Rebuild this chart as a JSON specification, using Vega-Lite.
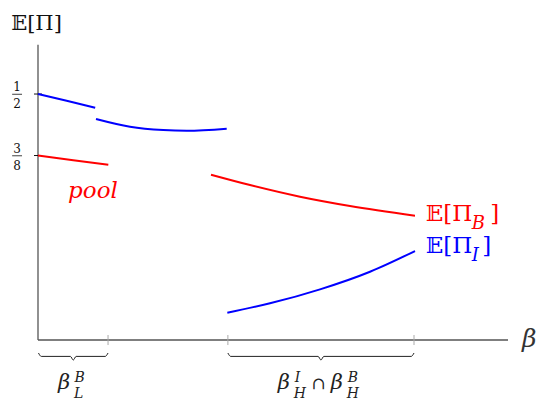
{
  "$schema": "https://vega.github.io/schema/vega-lite/v6.json",
  "width": 538,
  "height": 406,
  "padding": 0,
  "autosize": {"type": "fit", "contains": "padding"},
  "background": "white",
  "config": {"view": {"stroke": null}, "text": {"font": "DejaVu Serif"}},
  "datasets": {
    "axes": [
      {"x": 0, "y": 0, "x2": 10, "y2": 0},
      {"x": 0, "y": 0, "x2": 0, "y2": 0.6}
    ],
    "yticks": [
      {"x": -0.085, "x2": 0.085, "y": 0.5, "y2": 0.5},
      {"x": -0.085, "x2": 0.085, "y": 0.375, "y2": 0.375}
    ],
    "fracbars": [
      {"x": -0.55, "x2": -0.34, "y": 0.4995, "y2": 0.4995},
      {"x": -0.55, "x2": -0.34, "y": 0.3745, "y2": 0.3745}
    ],
    "xticks": [
      {"x": 1.49, "x2": 1.49, "y": -0.0102, "y2": 0.0102},
      {"x": 4.04, "x2": 4.04, "y": -0.0102, "y2": 0.0102},
      {"x": 8.0, "x2": 8.0, "y": -0.0102, "y2": 0.0102}
    ],
    "curves": [
      {"seg": "b1", "s": "I", "x": 0, "y": 0.5},
      {"seg": "b1", "s": "I", "x": 0.61, "y": 0.4864},
      {"seg": "b1", "s": "I", "x": 1.217, "y": 0.4722},
      {"seg": "b2", "s": "I", "x": 1.234, "y": 0.4492},
      {"seg": "b2", "s": "I", "x": 1.957, "y": 0.4335},
      {"seg": "b2", "s": "I", "x": 2.666, "y": 0.4268},
      {"seg": "b2", "s": "I", "x": 3.164, "y": 0.4254},
      {"seg": "b2", "s": "I", "x": 4.015, "y": 0.4295},
      {"seg": "r1", "s": "B", "x": 0, "y": 0.375},
      {"seg": "r1", "s": "B", "x": 0.75, "y": 0.3655},
      {"seg": "r1", "s": "B", "x": 1.496, "y": 0.3563},
      {"seg": "r2", "s": "B", "x": 3.681, "y": 0.336},
      {"seg": "r2", "s": "B", "x": 4.511, "y": 0.315},
      {"seg": "r2", "s": "B", "x": 5.574, "y": 0.2913},
      {"seg": "r2", "s": "B", "x": 6.638, "y": 0.2724},
      {"seg": "r2", "s": "B", "x": 8.021, "y": 0.2526},
      {"seg": "b3", "s": "I", "x": 4.028, "y": 0.0555},
      {"seg": "b3", "s": "I", "x": 4.936, "y": 0.0746},
      {"seg": "b3", "s": "I", "x": 6.0, "y": 0.103},
      {"seg": "b3", "s": "I", "x": 7.064, "y": 0.1388},
      {"seg": "b3", "s": "I", "x": 8.021, "y": 0.1809}
    ],
    "braces": [
      {"b": 1, "x": 0.01, "y": -0.0264},
      {"b": 1, "x": 0.07, "y": -0.0333},
      {"b": 1, "x": 0.69, "y": -0.0333},
      {"b": 1, "x": 0.75, "y": -0.0407},
      {"b": 1, "x": 0.81, "y": -0.0333},
      {"b": 1, "x": 1.43, "y": -0.0333},
      {"b": 1, "x": 1.49, "y": -0.0264},
      {"b": 2, "x": 4.04, "y": -0.0264},
      {"b": 2, "x": 4.1, "y": -0.0333},
      {"b": 2, "x": 5.96, "y": -0.0333},
      {"b": 2, "x": 6.02, "y": -0.0407},
      {"b": 2, "x": 6.08, "y": -0.0333},
      {"b": 2, "x": 7.94, "y": -0.0333},
      {"b": 2, "x": 8.0, "y": -0.0264}
    ],
    "title": [{"t": "𝔼[Π]", "x": -0.032, "y": 0.63}],
    "fracs": [
      {"t": "1", "x": -0.447, "y": 0.5055},
      {"t": "2", "x": -0.447, "y": 0.4715},
      {"t": "3", "x": -0.447, "y": 0.3805},
      {"t": "8", "x": -0.447, "y": 0.3465}
    ],
    "pool": [{"t": "pool", "x": 1.17, "y": 0.2886}],
    "legendMain": [
      {"s": "B", "t": "𝔼[Π", "x": 8.25, "y": 0.2419},
      {"s": "B", "t": "]", "x": 9.62, "y": 0.2419},
      {"s": "I", "t": "𝔼[Π", "x": 8.25, "y": 0.176},
      {"s": "I", "t": "]", "x": 9.45, "y": 0.176}
    ],
    "legendSub": [
      {"s": "B", "t": "B", "x": 9.23, "y": 0.2256},
      {"s": "I", "t": "I", "x": 9.23, "y": 0.1606}
    ],
    "betaBig": [{"t": "β", "x": 10.45, "y": -0.0142}],
    "betaSmall": [
      {"t": "β", "x": 0.4255, "y": -0.0996},
      {"t": "β", "x": 5.1, "y": -0.0996},
      {"t": "β", "x": 6.23, "y": -0.0996}
    ],
    "cap": [{"t": "∩", "x": 5.82, "y": -0.0996}],
    "scripts": [
      {"t": "B", "x": 0.776, "y": -0.0854},
      {"t": "L", "x": 0.766, "y": -0.1169},
      {"t": "I", "x": 5.46, "y": -0.0854},
      {"t": "H", "x": 5.44, "y": -0.1169},
      {"t": "B", "x": 6.59, "y": -0.0854},
      {"t": "H", "x": 6.57, "y": -0.1169}
    ]
  },
  "encoding": {
    "x": {"field": "x", "type": "quantitative", "axis": null,
          "scale": {"domain": [-0.8085, 10.638], "nice": false, "zero": false}},
    "y": {"field": "y", "type": "quantitative", "axis": null,
          "scale": {"domain": [-0.1341, 0.6911], "nice": false, "zero": false}}
  },
  "layer": [
    {
      "data": {"name": "axes"},
      "mark": {"type": "rule", "color": "#555555", "strokeWidth": 1.3},
      "encoding": {"x2": {"field": "x2"}, "y2": {"field": "y2"}}
    },
    {
      "data": {"name": "yticks"},
      "mark": {"type": "rule", "color": "#111111", "strokeWidth": 1},
      "encoding": {"x2": {"field": "x2"}, "y2": {"field": "y2"}}
    },
    {
      "data": {"name": "xticks"},
      "mark": {"type": "rule", "color": "#aaaaaa", "strokeWidth": 1},
      "encoding": {"x2": {"field": "x2"}, "y2": {"field": "y2"}}
    },
    {
      "data": {"name": "fracbars"},
      "mark": {"type": "rule", "color": "#111111", "strokeWidth": 0.8},
      "encoding": {"x2": {"field": "x2"}, "y2": {"field": "y2"}}
    },
    {
      "data": {"name": "curves"},
      "mark": {"type": "line", "strokeWidth": 2, "interpolate": "monotone"},
      "encoding": {
        "detail": {"field": "seg"},
        "color": {"field": "s", "type": "nominal", "legend": null,
                  "scale": {"domain": ["B", "I"], "range": ["#ff0000", "#0000ff"]}}
      }
    },
    {
      "data": {"name": "braces"},
      "mark": {"type": "line", "strokeWidth": 1, "color": "#222222", "interpolate": "monotone"},
      "encoding": {"detail": {"field": "b"}}
    },
    {
      "data": {"name": "title"},
      "mark": {"type": "text", "font": "DejaVu Serif", "fontSize": 21, "align": "center", "baseline": "alphabetic", "color": "#111111"},
      "encoding": {"text": {"field": "t"}}
    },
    {
      "data": {"name": "fracs"},
      "mark": {"type": "text", "font": "DejaVu Serif", "fontSize": 12, "align": "center", "baseline": "alphabetic", "color": "#111111"},
      "encoding": {"text": {"field": "t"}}
    },
    {
      "data": {"name": "pool"},
      "mark": {"type": "text", "font": "DejaVu Serif", "fontStyle": "italic", "fontSize": 23, "align": "center", "baseline": "alphabetic", "color": "#ff0000"},
      "encoding": {"text": {"field": "t"}}
    },
    {
      "data": {"name": "legendMain"},
      "mark": {"type": "text", "font": "DejaVu Serif", "fontSize": 23, "align": "left", "baseline": "alphabetic"},
      "encoding": {
        "text": {"field": "t"},
        "color": {"field": "s", "type": "nominal", "legend": null}
      }
    },
    {
      "data": {"name": "legendSub"},
      "mark": {"type": "text", "font": "DejaVu Serif", "fontStyle": "italic", "fontSize": 18, "align": "left", "baseline": "alphabetic"},
      "encoding": {
        "text": {"field": "t"},
        "color": {"field": "s", "type": "nominal", "legend": null}
      }
    },
    {
      "data": {"name": "betaBig"},
      "mark": {"type": "text", "font": "DejaVu Serif", "fontStyle": "italic", "fontSize": 25, "align": "center", "baseline": "alphabetic", "color": "#333333"},
      "encoding": {"text": {"field": "t"}}
    },
    {
      "data": {"name": "betaSmall"},
      "mark": {"type": "text", "font": "DejaVu Serif", "fontStyle": "italic", "fontSize": 21, "align": "left", "baseline": "alphabetic", "color": "#222222"},
      "encoding": {"text": {"field": "t"}}
    },
    {
      "data": {"name": "cap"},
      "mark": {"type": "text", "font": "DejaVu Serif", "fontSize": 17, "align": "left", "baseline": "alphabetic", "color": "#222222"},
      "encoding": {"text": {"field": "t"}}
    },
    {
      "data": {"name": "scripts"},
      "mark": {"type": "text", "font": "DejaVu Serif", "fontStyle": "italic", "fontSize": 14, "align": "left", "baseline": "alphabetic", "color": "#222222"},
      "encoding": {"text": {"field": "t"}}
    }
  ]
}
